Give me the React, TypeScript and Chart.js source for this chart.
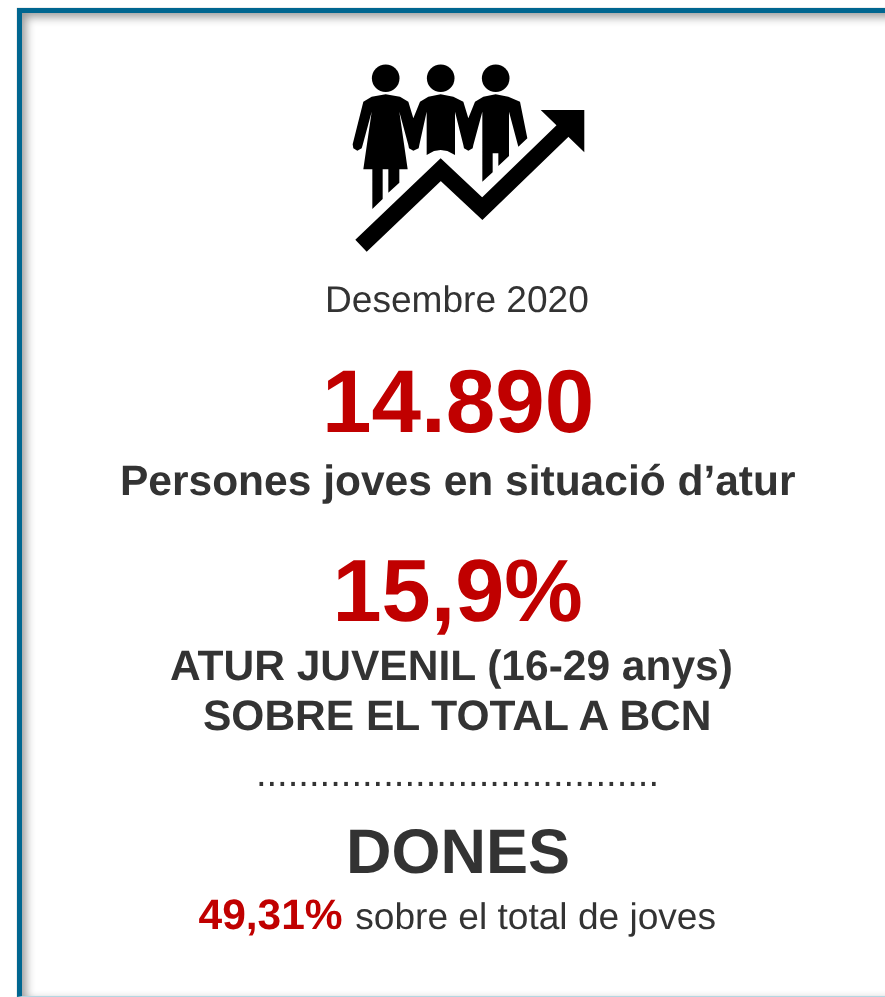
import React, { useEffect, useRef } from "react";
import { Chart, registerables } from "chart.js";

Chart.register(...registerables);

const W = 885;
const H = 997;
const FONT = '"Liberation Sans", Arial, sans-serif';
const DARK = "#333333";
const RED = "#C00000";

// ---- text content
const periodLabel = "Desembre 2020";
const youthTotal = "14.890";
const youthTotalLabel = "Persones joves en situació d’atur";
const youthShare = "15,9%";
const youthShareLabel1 = "ATUR JUVENIL (16-29 anys)";
const youthShareLabel2 = "SOBRE EL TOTAL A BCN";
const separator = ".".repeat(38);
const womenLabel = "DONES";
const womenShare = "49,31%";
const womenShareLabel = " sobre el total de joves";

// ---- pictogram outlines (reference-picture units)
const arrowLine = [
  [361, 245.7],
  [440.7, 169.7],
  [482.3, 208.7],
  [577, 117],
];
const arrowHead = [
  [540.7, 110],
  [584.3, 110],
  [584.3, 152.3],
  [540.7, 110],
];
const headCentres = [
  [385.7, 78.3],
  [440.7, 78.3],
  [495.7, 78.3],
];
const peopleZoomed = [
  [137, 118],[180, 125],[205, 140],[220, 190],[240, 140],[265, 125],[302, 118],[340, 125],[370, 140],[385, 190],
  [405, 140],[430, 125],[467, 118],[505, 125],[540, 140],[562, 250],[535, 275],[507, 170],[507, 303],[475, 333],
  [475, 295],[458, 295],[458, 352],[427, 380],[427, 170],[400, 270],[398, 280],[385, 287],[372, 280],[370, 270],
  [345, 170],[345, 300],[322, 288],[302, 285],[282, 288],[260, 300],[260, 170],[238, 270],[236, 280],[220, 287],
  [207, 280],[205, 270],[178, 170],[203, 343],[178, 343],[178, 383],[145, 413],[145, 343],[128, 343],[128, 432],
  [97, 462],[97, 343],[70, 343],[95, 170],[68, 270],[65, 280],[52, 287],[40, 280],[38, 268],[70, 140],[95, 125],[137, 118],
];
const toPoint = ([x, y]: number[]) => ({ x, y });
const peopleOutline = peopleZoomed.map(([x, y]) => ({ x: x / 3 + 340, y: y / 3 + 55 }));

type Line = { text: string; x: number; y: number; size: number; bold: boolean; color: string };
const lines: Line[] = [
  { text: periodLabel, x: 325, y: 312, size: 37.1, bold: false, color: DARK },
  { text: youthTotal, x: 322, y: 432, size: 89, bold: true, color: RED },
  { text: youthTotalLabel, x: 120, y: 495, size: 42.5, bold: true, color: DARK },
  { text: youthShare, x: 332.5, y: 621, size: 88.3, bold: true, color: RED },
  { text: youthShareLabel1, x: 170, y: 680, size: 42.5, bold: true, color: DARK },
  { text: youthShareLabel2, x: 203, y: 730, size: 42.5, bold: true, color: DARK },
  { text: separator, x: 255.9, y: 786, size: 38.2, bold: false, color: DARK },
  { text: womenLabel, x: 346, y: 873, size: 63, bold: true, color: DARK },
  { text: womenShare, x: 198.5, y: 929, size: 42.5, bold: true, color: RED },
  { text: womenShareLabel, x: 345, y: 929, size: 37.1, bold: false, color: DARK },
];

const textPlugin = {
  id: "infographicText",
  afterDatasetsDraw(chart: any) {
    const { ctx, scales } = chart;
    ctx.save();
    ctx.textAlign = "left";
    ctx.textBaseline = "alphabetic";
    ctx.textRendering = "geometricPrecision";
    ctx.fontKerning = "normal";
    for (const l of lines) {
      ctx.font = `${l.bold ? "bold " : ""}${l.size}px ${FONT}`;
      ctx.fillStyle = l.color;
      ctx.fillText(l.text, scales.x.getPixelForValue(l.x), scales.y.getPixelForValue(l.y));
    }
    ctx.restore();
  },
};

export default function App() {
  const ref = useRef<HTMLCanvasElement>(null);
  useEffect(() => {
    const chart = new Chart(ref.current!, {
      type: "line",
      data: {
        datasets: [
          {
            data: peopleOutline,
            fill: "shape",
            backgroundColor: "#000000",
            borderColor: "#000000",
            borderWidth: 0,
            pointRadius: 0,
            tension: 0,
            clip: false,
          },
          {
            data: arrowLine.map(toPoint),
            fill: false,
            borderColor: "#000000",
            borderWidth: 16.5,
            borderJoinStyle: "miter",
            borderCapStyle: "butt",
            pointRadius: 0,
            tension: 0,
            clip: false,
          },
          {
            data: arrowHead.map(toPoint),
            fill: "shape",
            backgroundColor: "#000000",
            borderWidth: 0,
            pointRadius: 0,
            tension: 0,
            clip: false,
          },
          {
            data: headCentres.map(toPoint),
            showLine: false,
            pointStyle: "circle",
            pointRadius: 13.8,
            pointBackgroundColor: "#000000",
            pointBorderWidth: 0,
            clip: false,
          },
        ] as any,
      },
      options: {
        animation: false,
        responsive: false,
        events: [],
        layout: { padding: 0, autoPadding: false },
        plugins: { legend: { display: false }, title: { display: false }, tooltip: { enabled: false } },
        scales: {
          x: { type: "linear", min: 0, max: W, display: false },
          y: { type: "linear", min: 0, max: H, reverse: true, display: false },
        },
      },
      plugins: [textPlugin],
    });
    return () => chart.destroy();
  }, []);

  return (
    <div style={{ position: "fixed", left: 0, top: 0, width: W, height: H, overflow: "hidden", background: "#fff" }}>
      <div
        style={{
          position: "absolute",
          left: 17,
          top: 8,
          width: W + 40,
          height: 988 - 5,
          borderLeft: "5px solid #006690",
          borderTop: "5px solid #006690",
          borderBottom: "1px solid #b4d6e2",
          boxShadow: "inset 4px 4px 10px 0 rgba(0,0,0,0.4), 0 0 1px rgba(0,0,0,0.4)",
          background: "#fff",
        }}
      />
      <canvas ref={ref} width={W} height={H} style={{ position: "absolute", left: 0, top: 0, width: W, height: H }} />
    </div>
  );
}
